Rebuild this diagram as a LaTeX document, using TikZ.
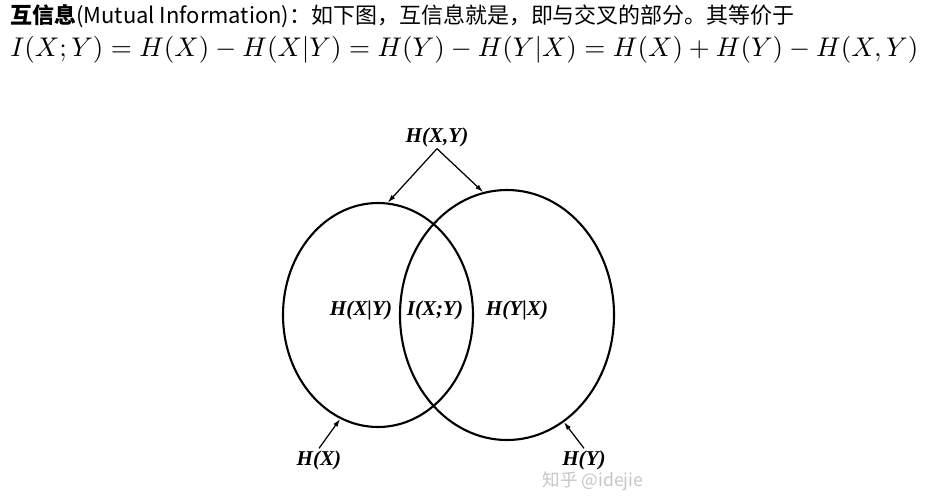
\documentclass[tikz,border=0pt]{standalone}
\usepackage{fontspec}
\usepackage{graphicx}
\usetikzlibrary{arrows.meta,shapes.geometric}
\newfontfamily\cjk{Noto Sans CJK SC}
\newfontfamily\bookfont{Liberation Serif}

\begin{document}
\begin{tikzpicture}[
  lbl/.style={font=\bookfont\bfseries\itshape\fontsize{12}{14}\selectfont, inner sep=1pt},
  set/.style={draw, ellipse, line width=1.2pt, inner sep=0pt},
  ptr/.style={-{Latex[length=1.6mm,width=1mm]}, line width=0.7pt}
]

\useasboundingbox (0,0) rectangle (18.5,-9.98);

% Heading
\node[anchor=west, inner sep=0pt, font=\cjk\fontsize{12.5}{15}\selectfont] (title) at (0.2,-0.32)
  {\textbf{互信息}(Mutual Information)：如下图，互信息就是，即与交叉的部分。其等价于};

% Formula
\node[anchor=west, inner sep=0pt] (formula) at (0.2,-1.0)
  {\resizebox{18.16cm}{!}{$I(X;Y)=H(X)-H(X|Y)=H(Y)-H(Y|X)=H(X)+H(Y)-H(X,Y)$}};

% Sets
\node[set, minimum width=3.8cm, minimum height=4.48cm] (X) at (7.56,-6.30) {};
\node[set, minimum width=4.28cm, minimum height=5.0cm] (Y) at (10.14,-6.30) {};

% Joint entropy
\node[lbl] (hxy) at (8.74,-2.74) {H(X,Y)};
\draw[ptr] (hxy.south) -- (X.85);
\draw[ptr] (hxy.south) -- (Y.101);

% Regions
\node[lbl] (hxgy) at (7.22,-6.20) {H(X|Y)};
\node[lbl] (ixy) at (8.70,-6.20) {I(X;Y)};
\node[lbl] (hygx) at (10.34,-6.20) {H(Y|X)};

% Watermark
\node[font=\cjk\fontsize{10}{12}\selectfont, text=gray!45] (mark) at (11.86,-9.62) {知乎 @idejie};

% Marginal entropies
\node[lbl] (hx) at (6.38,-9.2) {H(X)};
\draw[ptr] (hx.north) -- (X.250);
\node[lbl] (hy) at (11.68,-9.2) {H(Y)};
\draw[ptr] (hy.north) -- (Y.298);

\end{tikzpicture}
\end{document}
